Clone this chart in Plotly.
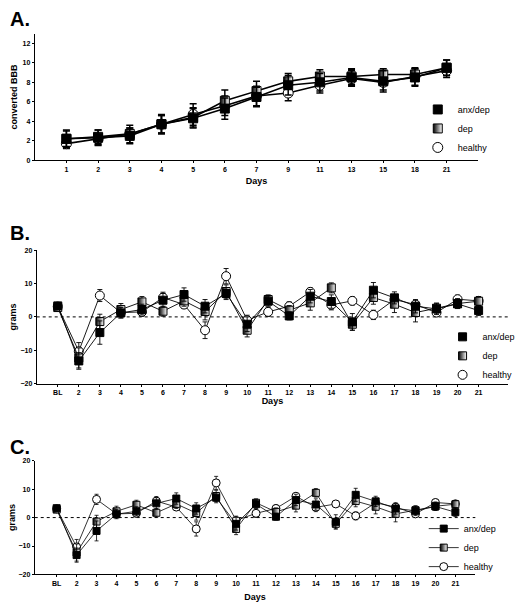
import plotly.graph_objects as go

# ---------------- data ----------------
days_a = ["1", "2", "3", "4", "5", "6", "7", "9", "11", "13", "15", "18", "21"]
a_anx = [2.2, 2.3, 2.5, 3.7, 4.3, 5.3, 6.5, 7.7, 8.0, 8.5, 8.1, 8.5, 9.5]
a_dep = [2.2, 2.4, 2.7, 3.7, 4.4, 6.1, 7.1, 8.1, 8.6, 8.6, 8.8, 8.8, 9.5]
a_hea = [1.7, 2.2, 2.7, 3.7, 4.7, 5.6, 6.6, 6.9, 7.7, 8.4, 8.0, 8.6, 9.2]
a_anx_err = [0.9, 0.8, 0.8, 1.0, 1.0, 1.1, 1.0, 1.0, 0.9, 0.8, 1.1, 0.9, 0.8]
a_dep_err = [0.8, 0.7, 0.9, 0.9, 1.0, 1.1, 1.0, 0.8, 0.7, 0.8, 0.6, 0.6, 0.8]
a_hea_err = [0.5, 0.6, 0.6, 0.9, 1.1, 1.0, 1.0, 0.8, 0.8, 0.8, 0.8, 0.9, 0.7]

days_b = ["BL", "2", "3", "4", "5", "6", "7", "8", "9", "10", "11", "12",
          "13", "14", "15", "16", "17", "18", "19", "20", "21"]
b_anx = [3.3, -13.2, -4.7, 1.2, 2.2, 5.0, 6.7, 3.2, 7.0, -2.2, 4.7, 0.3,
         6.2, 4.6, -1.5, 8.0, 5.7, 3.2, 2.4, 3.9, 1.9]
b_dep = [2.8, -12.3, -1.4, 2.2, 4.5, 1.7, 4.8, 1.6, 7.6, -4.0, 5.2, 2.0,
         4.2, 8.7, -2.2, 5.8, 3.8, 1.3, 2.6, 4.0, 4.7]
b_hea = [3.1, -10.3, 6.4, 1.3, 1.5, 5.8, 3.7, -4.0, 12.2, -1.0, 1.5, 3.2,
         7.5, 3.6, 4.8, 0.6, 5.2, 3.7, 1.3, 5.3, 4.8]
b_anx_err = [0.8, 2.5, 3.5, 1.6, 1.6, 2.0, 2.0, 2.0, 1.8, 2.2, 1.5, 1.2,
             2.0, 2.0, 2.5, 2.3, 1.8, 2.0, 1.7, 1.3, 1.5]
b_dep_err = [0.8, 3.0, 2.2, 1.8, 1.6, 1.5, 1.6, 2.5, 2.0, 2.0, 1.4, 1.4,
             2.2, 1.5, 1.8, 2.0, 2.5, 2.8, 1.5, 1.5, 1.3]
b_hea_err = [0.8, 2.6, 1.8, 1.4, 1.3, 1.6, 1.2, 2.5, 2.3, 1.5, 1.4, 1.3,
             1.2, 1.5, 1.2, 1.4, 1.4, 1.2, 1.2, 1.2, 1.3]

series_names = ["anx/dep", "dep", "healthy"]

# ---------------- styles ----------------
FONT = "Liberation Sans, Arial, sans-serif"
BLACK = "black"

def marker_style(name, size):
    if name == "anx/dep":
        return dict(symbol="square", size=size, color=BLACK,
                    line=dict(color=BLACK, width=1))
    if name == "dep":
        return dict(symbol="square", size=size, color=BLACK,
                    gradient=dict(type="horizontal", color="white"),
                    line=dict(color=BLACK, width=1))
    return dict(symbol="circle", size=size + 1, color="white",
                line=dict(color=BLACK, width=1))

fig = go.Figure()

panels = [
    dict(x=days_a, ys={"anx/dep": a_anx, "dep": a_dep, "healthy": a_hea},
         errs={"anx/dep": a_anx_err, "dep": a_dep_err, "healthy": a_hea_err},
         xa="x", ya="y", legend="legend", msize=9, lw=1.6, ew=1.5, cap=3.5,
         legend_lines=False),
    dict(x=days_b, ys={"anx/dep": b_anx, "dep": b_dep, "healthy": b_hea},
         errs={"anx/dep": b_anx_err, "dep": b_dep_err, "healthy": b_hea_err},
         xa="x2", ya="y2", legend="legend2", msize=8, lw=0.9, ew=0.9, cap=2.5,
         legend_lines=False),
    dict(x=days_b, ys={"anx/dep": b_anx, "dep": b_dep, "healthy": b_hea},
         errs={"anx/dep": b_anx_err, "dep": b_dep_err, "healthy": b_hea_err},
         xa="x3", ya="y3", legend="legend3", msize=7, lw=0.8, ew=0.8, cap=2,
         legend_lines=True),
]

draw_order = ["healthy", "dep", "anx/dep"]
rank = {"anx/dep": 1, "dep": 2, "healthy": 3}

for p in panels:
    for name in draw_order:
        if not p["legend_lines"]:
            fig.add_trace(go.Scatter(
                x=p["x"], y=p["ys"][name], mode="lines",
                line=dict(color=BLACK, width=p["lw"]),
                xaxis=p["xa"], yaxis=p["ya"], showlegend=False,
                hoverinfo="skip"))
            mode = "markers"
        else:
            mode = "lines+markers"
        fig.add_trace(go.Scatter(
            x=p["x"], y=p["ys"][name], mode=mode, name=name,
            line=dict(color=BLACK, width=p["lw"]),
            marker=marker_style(name, p["msize"]),
            error_y=dict(type="data", array=p["errs"][name], color=BLACK,
                         thickness=p["ew"], width=p["cap"]),
            xaxis=p["xa"], yaxis=p["ya"], legend=p["legend"],
            legendrank=rank[name]))

W, H = 521, 614
def px_x(v):
    return v / W
def px_y(v):
    return 1 - v / H

tickfont = dict(family=FONT, size=7, color=BLACK, weight="bold")
titlefont = dict(family=FONT, size=9, color=BLACK, weight="bold")

def xaxis(dom, rng, anchor, standoff):
    return dict(domain=dom, range=rng, type="category", anchor=anchor,
                showline=True, linecolor=BLACK, linewidth=1,
                ticks="outside", ticklen=2, tickcolor=BLACK, tickwidth=1,
                showgrid=False, zeroline=False, tickfont=tickfont,
                title=dict(text="Days", font=titlefont, standoff=standoff))

def yaxis(dom, rng, dtick, anchor, title, standoff):
    return dict(domain=dom, range=rng, dtick=dtick, anchor=anchor,
                showline=True, linecolor=BLACK, linewidth=1,
                ticks="outside", ticklen=2, tickcolor=BLACK, tickwidth=1,
                showgrid=False, zeroline=False, tickfont=tickfont,
                title=dict(text=title, font=titlefont, standoff=standoff))

legfont = dict(family=FONT, size=9, color=BLACK)

fig.update_layout(
    width=W, height=H,
    margin=dict(l=0, r=0, t=0, b=0),
    paper_bgcolor="white", plot_bgcolor="white",
    xaxis=xaxis([px_x(35), px_x(482)], [-1, 13], "y", 6),
    yaxis=yaxis([px_y(158), px_y(30)], [0, 13], 2, "x", "converted BBB", 3),
    xaxis2=xaxis([px_x(37), px_x(512)], [-1, 21.4], "y2", 2),
    yaxis2=yaxis([px_y(384), px_y(249)], [-20, 20], 10, "x2", "grams", 2),
    xaxis3=xaxis([px_x(35), px_x(479)], [-1.1, 21], "y3", 7),
    yaxis3=yaxis([px_y(577), px_y(462)], [-20, 20], 10, "x3", "grams", 1),
    legend=dict(x=px_x(421), y=px_y(92), xanchor="left", yanchor="top",
                font=legfont, bgcolor="rgba(0,0,0,0)", itemwidth=30,
                tracegroupgap=0),
    legend2=dict(x=px_x(446), y=px_y(322), xanchor="left", yanchor="top",
                 font=legfont, bgcolor="rgba(0,0,0,0)", itemwidth=30,
                 tracegroupgap=0),
    legend3=dict(x=px_x(427), y=px_y(516), xanchor="left", yanchor="top",
                 font=legfont, bgcolor="rgba(0,0,0,0)", itemwidth=30,
                 tracegroupgap=0),
    shapes=[
        dict(type="line", xref="x2 domain", yref="y2", x0=0, x1=1, y0=0, y1=0,
             line=dict(color=BLACK, width=1, dash="dot"), layer="below"),
        dict(type="line", xref="x3 domain", yref="y3", x0=0, x1=1, y0=0, y1=0,
             line=dict(color=BLACK, width=1, dash="dot"), layer="below"),
    ],
    annotations=[
        dict(text="A.", x=px_x(8), y=px_y(15), xref="paper", yref="paper",
             xanchor="left", yanchor="middle", showarrow=False,
             font=dict(family=FONT, size=20, color=BLACK, weight="bold")),
        dict(text="B.", x=px_x(8), y=px_y(232), xref="paper", yref="paper",
             xanchor="left", yanchor="middle", showarrow=False,
             font=dict(family=FONT, size=20, color=BLACK, weight="bold")),
        dict(text="C.", x=px_x(8), y=px_y(448), xref="paper", yref="paper",
             xanchor="left", yanchor="middle", showarrow=False,
             font=dict(family=FONT, size=20, color=BLACK, weight="bold")),
    ],
)

fig.write_html("out.html",
               config={"displayModeBar": False},
               post_script="document.body.style.margin='0';"
                           "document.body.style.overflow='hidden';")
